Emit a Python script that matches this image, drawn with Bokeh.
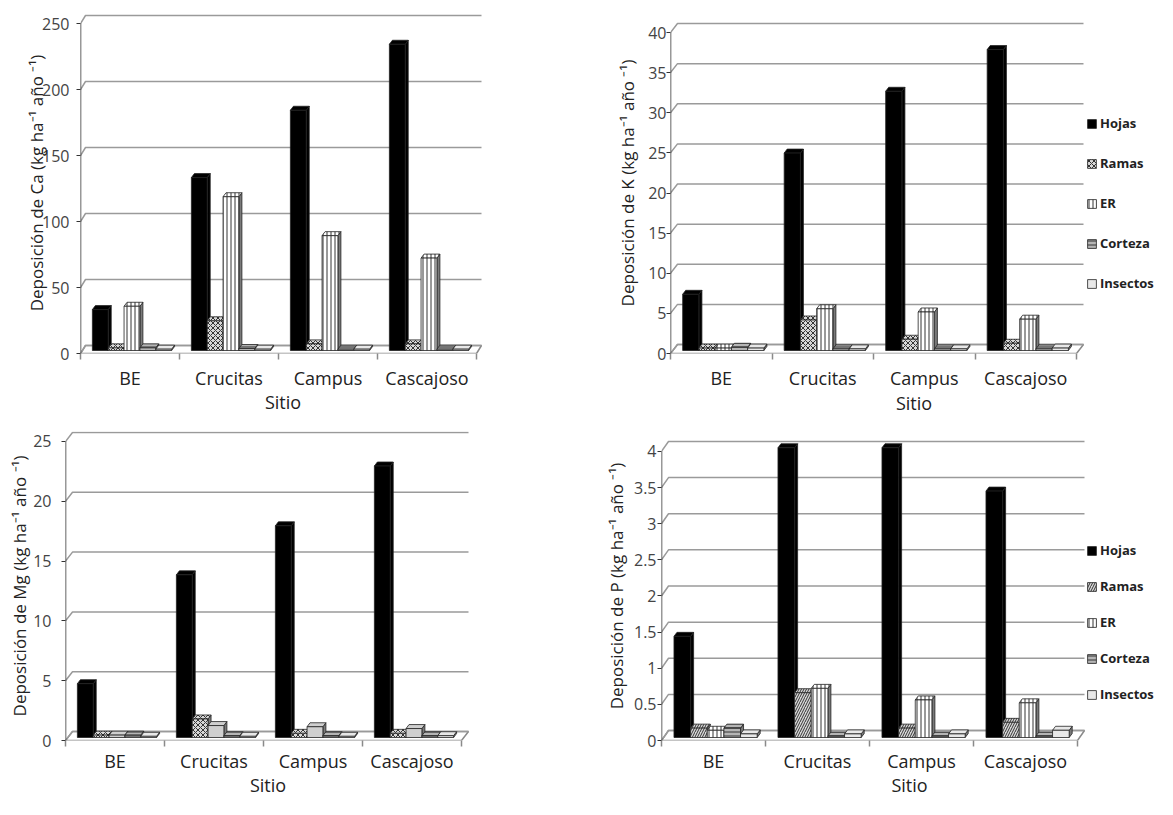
from bokeh.plotting import figure
from bokeh.layouts import row, column
from bokeh.models import FixedTicker, Legend, LegendItem, Range1d
from bokeh.embed import file_html
from bokeh.resources import INLINE

FONT = "Open Sans"

sites = ["BE", "Crucitas", "Campus", "Cascajoso"]
components = ["Hojas", "Ramas", "ER", "Corteza", "Insectos"]

# Ca (kg ha-1 año-1)
ca_hojas = [31, 131, 182, 232]
ca_ramas = [2, 22.5, 5, 5]
ca_er = [33.5, 116.5, 87, 70]
ca_corteza = [2, 1.5, 1, 1]
ca_insectos = [1, 1, 1, 1]
ca_ticks = [0, 50, 100, 150, 200, 250]

# K
k_hojas = [7.0, 24.6, 32.3, 37.5]
k_ramas = [0.3, 3.8, 1.4, 0.9]
k_er = [0.3, 5.2, 4.8, 3.9]
k_corteza = [0.4, 0.2, 0.2, 0.2]
k_insectos = [0.3, 0.2, 0.2, 0.3]
k_ticks = [0, 5, 10, 15, 20, 25, 30, 35, 40]

# Mg
mg_hojas = [4.5, 13.6, 17.7, 22.7]
mg_ramas = [0.2, 1.55, 0.35, 0.35]
mg_er = [0.2, 1.0, 0.9, 0.75]
mg_corteza = [0.2, 0.15, 0.15, 0.15]
mg_insectos = [0.1, 0.1, 0.1, 0.15]
mg_ticks = [0, 5, 10, 15, 20, 25]

# P
p_hojas = [1.40, 4.01, 4.01, 3.41]
p_ramas = [0.13, 0.62, 0.13, 0.21]
p_er = [0.10, 0.68, 0.52, 0.48]
p_corteza = [0.13, 0.02, 0.02, 0.02]
p_insectos = [0.05, 0.05, 0.05, 0.10]
p_ticks = [0, 0.5, 1, 1.5, 2, 2.5, 3, 3.5, 4]

x_title = "Sitio"


def styles_for(ramas_hatch, er_plain=False):
    return {
        "Hojas": dict(fill_color="black", hatch_pattern=None),
        "Ramas": dict(fill_color="#d8d8d8", hatch_pattern=ramas_hatch, hatch_scale=5,
                      hatch_color="#333333", hatch_weight=1),
        "ER": (dict(fill_color="#cfcfcf", hatch_pattern=None) if er_plain else
               dict(fill_color="white", hatch_pattern="|", hatch_scale=4,
                    hatch_color="#333333", hatch_weight=1)),
        "Corteza": dict(fill_color="#b5b5b5", hatch_pattern="-", hatch_scale=4,
                        hatch_color="#333333", hatch_weight=1),
        "Insectos": dict(fill_color="#e8e8e8", hatch_pattern=None),
    }


def panel(vals, ticks, ylabel, W, H, mbl, mbr, mbt, mbb, kx, ky, wx, wy,
          ylab_standoff, tick_standoff, cat_standoff, sitio_standoff, sitio_align, styles,
          legend_loc=None, legend_spacing=20):
    fw = W - mbl - mbr
    fh = H - mbt - mbb
    n = len(sites)
    p = figure(width=W, height=H, x_range=Range1d(0, fw / kx), y_range=Range1d(0, fh / ky),
               output_backend="svg", toolbar_location=None,
               min_border_left=mbl, min_border_right=mbr,
               min_border_top=mbt, min_border_bottom=mbb)
    p.outline_line_color = None
    p.xgrid.visible = False
    p.ygrid.visible = False
    p.background_fill_color = "white"
    p.border_fill_color = "white"

    WX = wx / kx
    WY = wy / ky
    # floor
    p.patch([0, n, n + WX, WX], [0, 0, WY, WY], fill_color="white",
            line_color="#8a8a8a", line_width=1.5)
    # back wall grid lines
    p.multi_line([[0, WX, n + WX] for t in ticks], [[t, t + WY, t + WY] for t in ticks],
                 line_color="#9a9a9a", line_width=1.5)
    # front vertical axis
    p.segment(x0=[0], y0=[0], x1=[0], y1=[ticks[-1]], line_color="#333333", line_width=1.5)

    bw = 0.16
    off = 0.12
    DX = 3.0 / kx
    DY = 4.0 / ky
    B = 3.0 / ky
    front = {}
    for j, comp in enumerate(components):
        v = vals[j]
        x0 = [i + off + j * bw for i in range(n)]
        x1 = [a + bw for a in x0]
        top = [B + vv for vv in v]
        st = styles[comp]
        side_fill = "black" if comp == "Hojas" else "#7a7a7a"
        p.patches([[a, a + DX, a + DX, a] for a in x1],
                  [[B, B + DY, tt + DY, tt] for tt in top],
                  fill_color=side_fill, line_color="#222222", line_width=0.8)
        p.patches([[a, c, c + DX, a + DX] for a, c in zip(x0, x1)],
                  [[tt, tt, tt + DY, tt + DY] for tt in top],
                  line_color="#222222", line_width=0.8, **st)
        front[comp] = p.quad(left=x0, right=x1, bottom=[B] * n, top=top,
                             line_color="#222222", line_width=0.8, **st)

    xa = p.xaxis[0]
    xa.ticker = FixedTicker(ticks=[i + 0.5 for i in range(n)], minor_ticks=list(range(n + 1)))
    xa.major_label_overrides = {i + 0.5: s for i, s in enumerate(sites)}
    xa.axis_line_color = None
    xa.major_tick_line_color = None
    xa.major_tick_out = 0
    xa.major_tick_in = 0
    xa.minor_tick_line_color = "#8a8a8a"
    xa.minor_tick_line_width = 1.5
    xa.minor_tick_out = 6
    xa.minor_tick_in = 0
    xa.major_label_text_font = FONT
    xa.major_label_text_font_size = "18px"
    xa.major_label_text_color = "#222222"
    xa.major_label_standoff = cat_standoff
    xa.axis_label = x_title
    xa.axis_label_text_font = FONT
    xa.axis_label_text_font_size = "18px"
    xa.axis_label_text_font_style = "normal"
    xa.axis_label_text_color = "#222222"
    xa.axis_label_text_align = sitio_align
    xa.axis_label_standoff = sitio_standoff

    ya = p.yaxis[0]
    ya.ticker = FixedTicker(ticks=ticks)
    ya.major_label_overrides = {t: f"{t:g}" for t in ticks}
    ya.axis_line_color = None
    ya.major_tick_line_color = "#333333"
    ya.major_tick_out = 4
    ya.major_tick_in = 0
    ya.minor_tick_line_color = None
    ya.major_label_text_font = FONT
    ya.major_label_text_font_size = "16px"
    ya.major_label_text_color = "#444444"
    ya.major_label_standoff = tick_standoff
    ya.axis_label = ylabel
    ya.axis_label_text_font = FONT
    ya.axis_label_text_font_size = "17px"
    ya.axis_label_text_font_style = "normal"
    ya.axis_label_text_color = "#222222"
    ya.axis_label_standoff = ylab_standoff

    if legend_loc is not None:
        items = [LegendItem(label=c, renderers=[front[c]]) for c in components]
        lg = Legend(items=items, location=legend_loc, border_line_color=None,
                    background_fill_alpha=0, padding=0, margin=0, spacing=legend_spacing,
                    glyph_width=11, glyph_height=11, label_height=20, label_standoff=3,
                    label_text_font=FONT, label_text_font_size="13px",
                    label_text_font_style="bold", label_text_color="#222222")
        p.add_layout(lg)
    return p


# top row: frames share top and bottom
p1 = panel([ca_hojas, ca_ramas, ca_er, ca_corteza, ca_insectos], ca_ticks,
           "Deposición de Ca (kg ha⁻¹ año ⁻¹)",
           W=530, H=417, mbl=80, mbr=45, mbt=12, mbb=64, kx=99, ky=1.32, wx=5, wy=8,
           ylab_standoff=-9, tick_standoff=7, cat_standoff=6, sitio_standoff=-3,
           sitio_align="center", styles=styles_for("x"))

p2 = panel([k_hojas, k_ramas, k_er, k_corteza, k_insectos], k_ticks,
           "Deposición de K (kg ha⁻¹ año ⁻¹)",
           W=627, H=417, mbl=140, mbr=0, mbt=12, mbb=64, kx=101.5, ky=8.025, wx=7, wy=9,
           ylab_standoff=6, tick_standoff=0, cat_standoff=6, sitio_standoff=-2,
           sitio_align="right", styles=styles_for("x"),
           legend_loc=(1086 - 670, 60), legend_spacing=20)

# bottom row: frames share top and bottom
p3 = panel([mg_hojas, mg_ramas, mg_er, mg_corteza, mg_insectos], mg_ticks,
           "Deposición de Mg (kg ha⁻¹ año ⁻¹)",
           W=530, H=382, mbl=65, mbr=60, mbt=14, mbb=58, kx=99, ky=12.0, wx=7, wy=9,
           ylab_standoff=-1, tick_standoff=10, cat_standoff=2, sitio_standoff=-3,
           sitio_align="center", styles=styles_for("x", er_plain=True))

p4 = panel([p_hojas, p_ramas, p_er, p_corteza, p_insectos], p_ticks,
           "Deposición de P (kg ha⁻¹ año ⁻¹)",
           W=627, H=382, mbl=131, mbr=0, mbt=14, mbb=58, kx=104, ky=72.5, wx=7, wy=10,
           ylab_standoff=3, tick_standoff=1, cat_standoff=2, sitio_standoff=-3,
           sitio_align="right", styles=styles_for("/"),
           legend_loc=(1086 - 661, 36), legend_spacing=16)

layout = column(row(p1, p2), row(p3, p4))
open("out.html", "w").write(file_html(layout, INLINE))
